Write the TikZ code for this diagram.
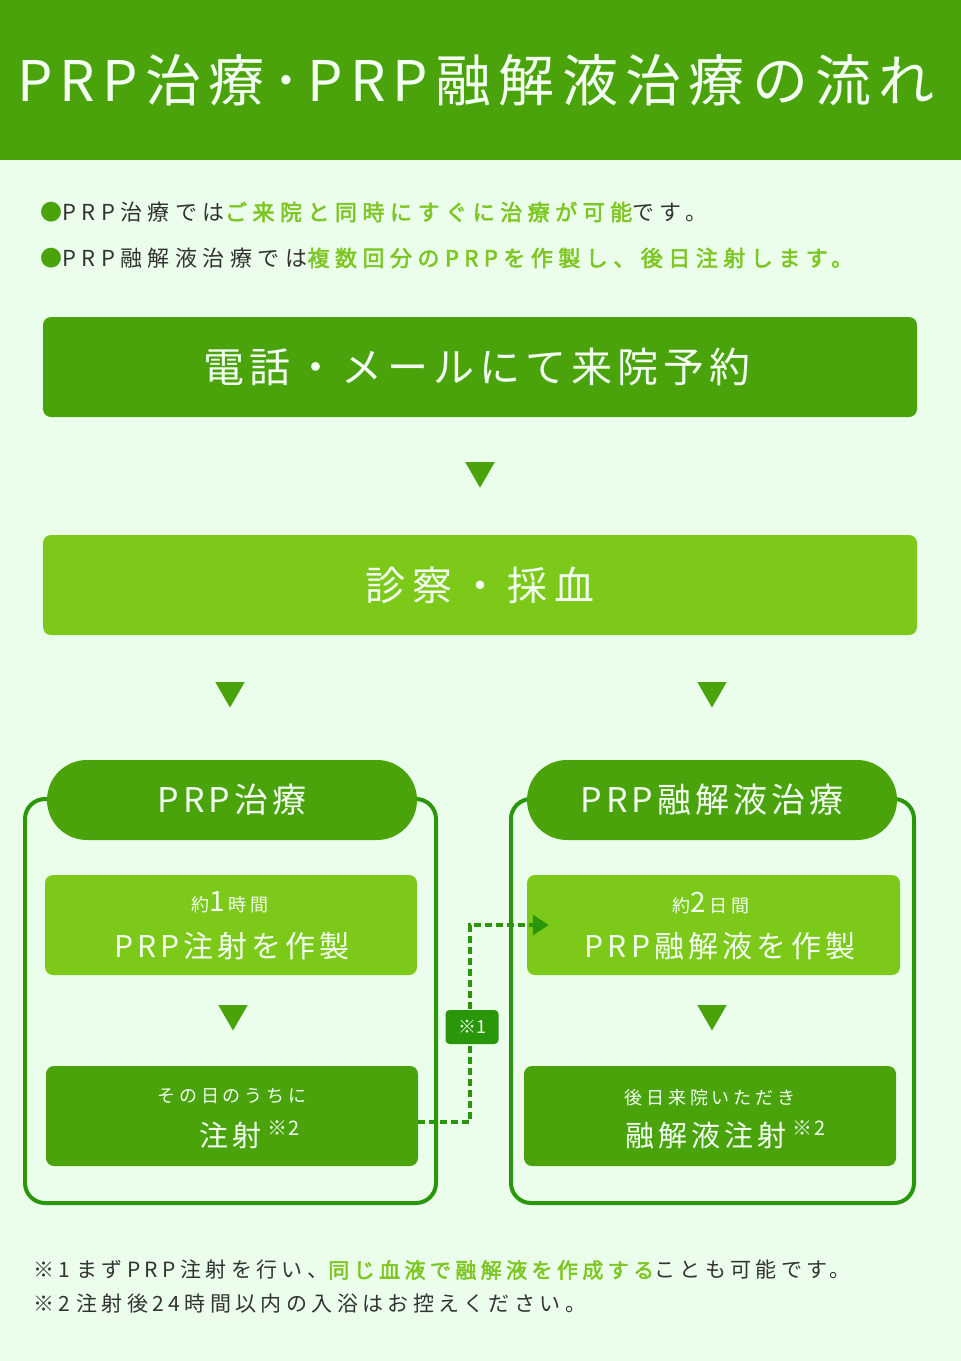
\documentclass[tikz,border=0pt]{standalone}
\usepackage{fontspec}
\setmainfont{Noto Sans CJK JP}
\usetikzlibrary{shapes.geometric,arrows.meta}
\definecolor{bg}{HTML}{EBFDEB}
\definecolor{dkg}{HTML}{4AA30B}
\definecolor{ltg}{HTML}{7DC91A}
\definecolor{olg}{HTML}{2A960A}
\definecolor{txg}{HTML}{7EC623}
\definecolor{wt}{HTML}{F2FFF2}
\definecolor{gy}{HTML}{333333}
\newcommand{\lsp}[1]{\addfontfeature{LetterSpace=#1}}
\newcommand{\fsz}[1]{\fontsize{#1}{#1}\selectfont}
\newcommand{\hl}[1]{\textcolor{txg}{\addfontfeature{FakeBold=2.5}#1}}
\begin{document}
\begin{tikzpicture}[x=1pt,y=-1pt,
  box/.style={rounded corners=8pt, inner sep=0pt, draw=none, text=wt},
  outerbox/.style={draw=olg, line width=4pt, rounded corners=20pt, inner sep=0pt},
  pill/.style={fill=dkg, rounded corners=40pt, minimum width=370pt, minimum height=80pt, inner sep=0pt, text=wt, font=\fsz{34}\lsp{12}},
  tri/.style={regular polygon, regular polygon sides=3, shape border rotate=180, fill=dkg, inner sep=0pt, minimum size=34pt},
  wtxt/.style={text=wt, inner sep=0pt},
  note/.style={text=gy, inner sep=0pt, anchor=west, font=\fsz{21}\lsp{21}},
  dashc/.style={draw=olg, line width=3.5pt, dash pattern=on 7pt off 4pt},
]
\useasboundingbox (0,0) rectangle (961,1361);
\fill[bg] (0,0) rectangle (961,1361);
% header
\node[fill=dkg, minimum width=961pt, minimum height=160pt, inner sep=0pt] (hdr) at (480.5,80) {};
\node[wtxt, font=\fsz{56}\lsp{13}] (title) at (476,80) {PRP治療･PRP融解液治療の流れ};
% bullets
\node[note, font=\fsz{22}\lsp{25}] (l1) at (40,212) {\textcolor{dkg}{●}PRP治療では\hl{ご来院と同時にすぐに治療が可能}です。};
\node[note, font=\fsz{22}\lsp{25}] (l2) at (40,258) {\textcolor{dkg}{●}PRP融解液治療では\hl{複数回分のPRPを作製し、後日注射します。}};
% main boxes
\node[box, fill=dkg, minimum width=874pt, minimum height=100pt] (b1) at (480,367) {};
\node[wtxt, font=\fsz{41}\lsp{12}] (b1t) at (477,367) {電話・メールにて来院予約};
\node[tri] (a1) at (480,470.7) {};
\node[box, fill=ltg, minimum width=874pt, minimum height=100pt, font=\fsz{40}\lsp{18}] (b2) at (480,585) {診察・採血};
\node[tri] (a2) at (230,690.5) {};
\node[tri] (a3) at (712,690.5) {};
% outer frames
\node[outerbox, minimum width=411pt, minimum height=404pt] (lo) at (230.5,1001) {};
\node[outerbox, minimum width=403pt, minimum height=404pt] (ro) at (712.5,1001) {};
\node[pill] (lp) at (232,800) {PRP治療};
\node[pill] (rp) at (712,800) {PRP融解液治療};
% left column
\node[box, fill=ltg, minimum width=372pt, minimum height=100pt] (lb1) at (231,925) {};
\node[wtxt] (lb1a) at (230,902) {\fsz{18}\lsp{22}約\fsz{28}\lsp{10}1\hspace{3pt}\fsz{18}\lsp{22}時間};
\node[wtxt, font=\fsz{30}\lsp{13}] (lb1b) at (232,946) {PRP注射を作製};
\node[tri] (a4) at (233,1013.5) {};
\node[box, fill=dkg, minimum width=372pt, minimum height=100pt] (lb2) at (232,1116) {};
\node[wtxt, font=\fsz{18}\lsp{22}] (lb2a) at (232,1096) {その日のうちに};
\node[wtxt, font=\fsz{29}\lsp{14}, anchor=west] (lb2b) at (199,1135) {注射\hspace{6pt}\raisebox{11pt}{\fsz{20}\lsp{8}※2}};
% right column
\node[box, fill=ltg, minimum width=373pt, minimum height=100pt] (rb1) at (713.5,925) {};
\node[wtxt] (rb1a) at (711,903) {\fsz{18}\lsp{22}約\fsz{28}\lsp{10}2\hspace{3pt}\fsz{18}\lsp{22}日間};
\node[wtxt, font=\fsz{30}\lsp{14}] (rb1b) at (720,946) {PRP融解液を作製};
\node[tri] (a5) at (712,1013.5) {};
\node[box, fill=dkg, minimum width=372pt, minimum height=100pt] (rb2) at (710,1116) {};
\node[wtxt, font=\fsz{18}\lsp{22}] (rb2a) at (710,1098) {後日来院いただき};
\node[wtxt, font=\fsz{29}\lsp{14}, anchor=west] (rb2b) at (625,1135) {融解液注射\hspace{6pt}\raisebox{11pt}{\fsz{20}\lsp{8}※2}};
% dashed connector
\coordinate (k1) at (470,1122);
\coordinate (k2) at (470,925);
\draw[dashc, -{Triangle[length=16pt,width=20pt]}] ([yshift=-6pt]lb2.east) -- (k1) -- (k2) -- ([xshift=22pt]rb1.west);
\node[fill=olg, rounded corners=4pt, minimum width=53pt, minimum height=34pt, inner sep=0pt, text=wt, font=\fsz{18}] (m1) at (472,1027) {※1};
% notes
\node[note] (n1) at (33,1270) {※1\hspace{6pt}まずPRP注射を行い、\hl{同じ血液で融解液を作成する}ことも可能です。};
\node[note] (n2) at (33,1304) {※2\hspace{6pt}注射後24時間以内の入浴はお控えください。};
\end{tikzpicture}
\end{document}
